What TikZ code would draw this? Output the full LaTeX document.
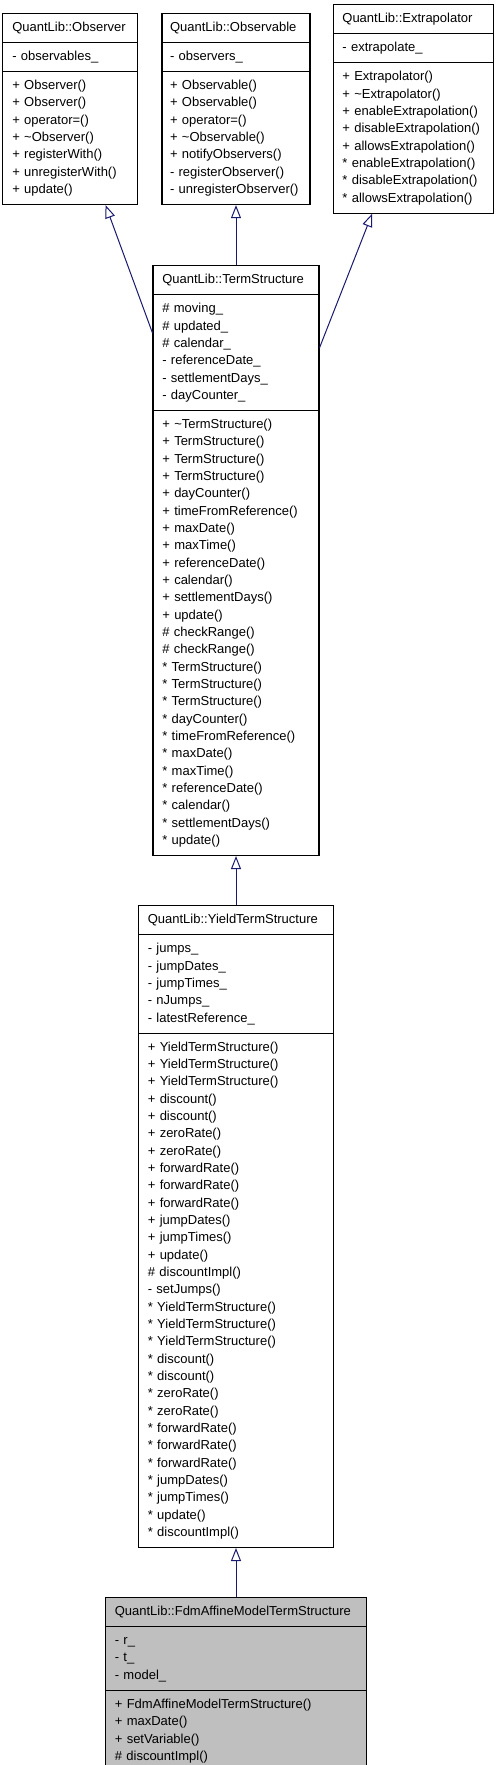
\documentclass[tikz,border=0pt]{standalone}
\usepackage{fontspec}
\setmainfont{Liberation Sans}
\usepackage{tikz}
\usetikzlibrary{shapes.multipart,positioning,arrows.meta}

\definecolor{edgeblue}{RGB}{25,25,112}
\definecolor{leafgray}{RGB}{191,191,191}

\begin{document}
\begin{tikzpicture}[x=0.75pt, y=-0.75pt, node distance=36.75pt,
    class/.style={rectangle split, rectangle split parts=3, draw=black, line width=0.8pt, fill=white, inner xsep=7pt, inner ysep=4pt, align=left, font=\fontsize{9.75}{13}\selectfont},
    isa/.style={draw=edgeblue, line width=0.75pt, -{Triangle[open,length=9.75pt,width=7.5pt]}}]
            \useasboundingbox (0,0) rectangle (496,1765);
            \node[class, text width=99pt, inner xsep=6pt] (observable) at (236,109) {\centering\strut QuantLib::Observable\strut
                \nodepart{two}\strut - observers\_\strut
                \nodepart{three}\strut + Observable()\\ + Observable()\\ + operator=()\\ + \textasciitilde Observable()\\ + notifyObservers()\\ - registerObserver()\\ - unregisterObserver()\strut};
            \node[class, text width=87.25pt, left=17.25pt of observable] (observer) {\centering\strut QuantLib::Observer\strut
                \nodepart{two}\strut - observables\_\strut
                \nodepart{three}\strut + Observer()\\ + Observer()\\ + operator=()\\ + \textasciitilde Observer()\\ + registerWith()\\ + unregisterWith()\\ + update()\strut};
            \node[class, text width=106pt, right=16.5pt of observable] (extrapolator) {\centering\strut QuantLib::Extrapolator\strut
                \nodepart{two}\strut - extrapolate\_\strut
                \nodepart{three}\strut + Extrapolator()\\ + \textasciitilde Extrapolator()\\ + enableExtrapolation()\\ + disableExtrapolation()\\ + allowsExtrapolation()\\{}* enableExtrapolation()\\{}* disableExtrapolation()\\{}* allowsExtrapolation()\strut};
            \node[class, text width=110.5pt, below=45pt of observable] (termstruct) {\centering\strut QuantLib::TermStructure\strut
                \nodepart{two}\strut \# moving\_\\ \# updated\_\\ \# calendar\_\\ - referenceDate\_\\ - settlementDays\_\\ - dayCounter\_\strut
                \nodepart{three}\strut + \textasciitilde TermStructure()\\ + TermStructure()\\ + TermStructure()\\ + TermStructure()\\ + dayCounter()\\ + timeFromReference()\\ + maxDate()\\ + maxTime()\\ + referenceDate()\\ + calendar()\\ + settlementDays()\\ + update()\\ \# checkRange()\\ \# checkRange()\\
                {}* TermStructure()\\{}* TermStructure()\\{}* TermStructure()\\{}* dayCounter()\\{}* timeFromReference()\\{}* maxDate()\\{}* maxTime()\\{}* referenceDate()\\{}* calendar()\\{}* settlementDays()\\{}* update()\strut};
            \node[class, text width=132.25pt, below=of termstruct] (yieldts) {\centering\strut QuantLib::YieldTermStructure\strut
                \nodepart{two}\strut - jumps\_\\ - jumpDates\_\\ - jumpTimes\_\\ - nJumps\_\\ - latestReference\_\strut
                \nodepart{three}\strut + YieldTermStructure()\\ + YieldTermStructure()\\ + YieldTermStructure()\\ + discount()\\ + discount()\\ + zeroRate()\\ + zeroRate()\\ + forwardRate()\\ + forwardRate()\\ + forwardRate()\\ + jumpDates()\\ + jumpTimes()\\ + update()\\ \# discountImpl()\\ - setJumps()\\
                {}* YieldTermStructure()\\{}* YieldTermStructure()\\{}* YieldTermStructure()\\{}* discount()\\{}* discount()\\{}* zeroRate()\\{}* zeroRate()\\{}* forwardRate()\\{}* forwardRate()\\{}* forwardRate()\\{}* jumpDates()\\{}* jumpTimes()\\{}* update()\\{}* discountImpl()\strut};
            \node[class, text width=181.75pt, fill=leafgray, below=of yieldts] (fdmaffine) {\centering\strut QuantLib::FdmAffineModelTermStructure\strut
                \nodepart{two}\strut - r\_\\ - t\_\\ - model\_\strut
                \nodepart{three}\strut + FdmAffineModelTermStructure()\\ + maxDate()\\ + setVariable()\\ \# discountImpl()\strut};
            \draw[isa] (termstruct) -- (observer);
            \draw[isa] (termstruct) -- (observable);
            \draw[isa] (termstruct) -- (extrapolator);
            \draw[isa] (yieldts) -- (termstruct);
            \draw[isa] (fdmaffine) -- (yieldts);
        \end{tikzpicture}
\end{document}
